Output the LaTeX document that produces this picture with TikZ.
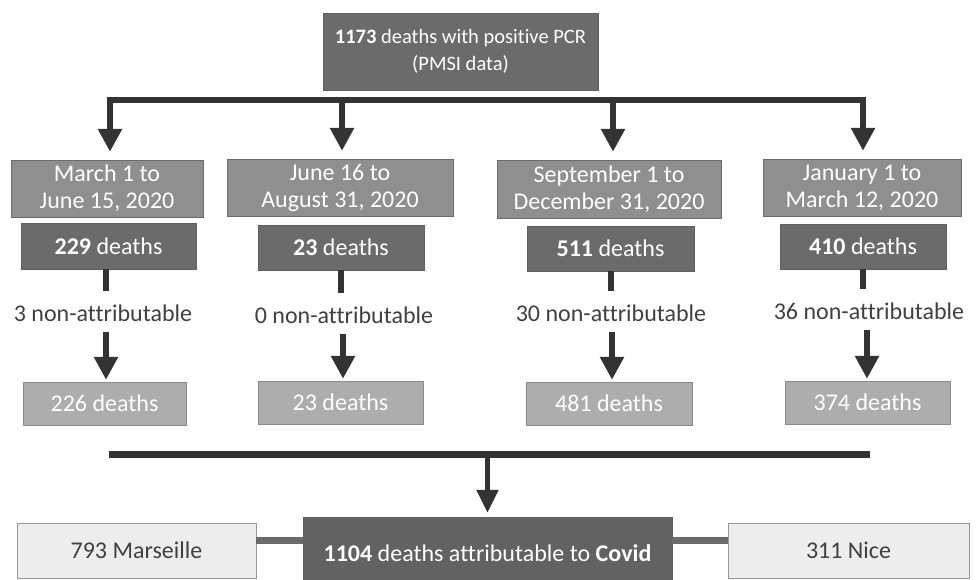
\documentclass[tikz,border=0pt]{standalone}
\usepackage{fontspec}
\setmainfont{Carlito}[Ligatures=NoCommon]
\usepackage{tikz}
\usetikzlibrary{arrows.meta}

\definecolor{boxdark}{HTML}{6B6B6B}
\definecolor{boxmid}{HTML}{8F8F8F}
\definecolor{boxlight}{HTML}{ADADAD}
\definecolor{boxpale}{HTML}{EDEDED}
\definecolor{linedark}{HTML}{333333}
\definecolor{textdark}{HTML}{404040}

\begin{document}
\begin{tikzpicture}[x=1pt,y=-1pt,
		font=\fontsize{24}{27}\selectfont,
		darkbox/.style={rectangle,fill=boxdark,draw=boxdark!90!black,text=white,inner sep=0pt,align=center},
		datebox/.style={rectangle,fill=boxmid,draw=boxdark,text=white,inner sep=0pt,align=center,minimum height=57pt},
		resbox/.style={rectangle,fill=boxlight,draw=boxdark!80,text=white,inner sep=0pt,minimum height=43pt},
		sidebox/.style={rectangle,fill=boxpale,draw=boxdark!70,text=textdark,inner sep=0pt,minimum height=55pt},
		bigarrow/.style={draw=linedark,line width=6pt,-{Triangle[width=23pt,length=23pt]}}]
	\useasboundingbox (0,0) rectangle (979,580);

	% source
	\node[darkbox,minimum width=275pt,minimum height=77pt,font=\fontsize{20.5}{27}\selectfont] (PCR) at (460.5,51.5)
		{\textbf{1173} deaths with positive PCR\\(PMSI data)};

	% periods
	\begin{scope}[every node/.style={datebox}]
		\node[minimum width=192pt] (D1) at (107,188.5) {March 1 to\\June 15, 2020};
		\node[minimum width=226pt] (D2) at (340,187.5) {June 16 to\\August 31, 2020};
		\node[minimum width=224pt,minimum height=58pt] (D3) at (609,189) {September 1 to\\December 31, 2020};
		\node[minimum width=198pt] (D4) at (862,187.5) {January 1 to\\March 12, 2020};
	\end{scope}

	\begin{scope}[every node/.style={darkbox,minimum height=45pt}]
		\node[minimum width=175pt,minimum height=46pt] (K1) at (108.5,246) {\textbf{229} deaths};
		\node[minimum width=166pt] (K2) at (341,247.5) {\textbf{23} deaths};
		\node[minimum width=167pt] (K3) at (610.5,248.5) {\textbf{511} deaths};
		\node[minimum width=166pt] (K4) at (863,246.5) {\textbf{410} deaths};
	\end{scope}

	\begin{scope}[every node/.style={text=textdark,inner sep=2pt}]
		\node (N1) at (103,313) {3 non-attributable};
		\node (N2) at (344,315) {0 non-attributable};
		\node (N3) at (611,313) {30 non-attributable};
		\node (N4) at (869,311) {36 non-attributable};
	\end{scope}

	\begin{scope}[every node/.style={resbox}]
		\node[minimum width=163pt] (R1) at (104.5,403.5) {226 deaths};
		\node[minimum width=165pt] (R2) at (340.5,402.5) {23 deaths};
		\node[minimum width=166pt] (R3) at (609,403.5) {481 deaths};
		\node[minimum width=165pt] (R4) at (867.5,402.5) {374 deaths};
	\end{scope}

	% total and cities
	\node[darkbox,fill=boxdark!92!black,minimum width=369pt,minimum height=72pt] (COV) at (487.5,553)
		{\textbf{1104} deaths attributable to \textbf{Covid}};
	\node[sidebox,minimum width=239pt] (MRS) at (136.5,550.5) {793 Marseille};
	\node[sidebox,minimum width=241pt] (NCE) at (848.5,550.5) {311 Nice};

	% branch bars
	\coordinate (B1) at (110,100);
	\coordinate (B4) at (863,100);
	\coordinate (J1) at (109,454);
	\coordinate (J2) at (870,454);

	\draw[linedark,line width=6pt,line cap=rect] (B1) -- (B4);
	\draw[linedark,line width=7pt] (J1) -- (J2);

	\begin{scope}[every path/.style={bigarrow,shorten >=8pt}]
		\path (B1) -- (B1 |- D1.north);
		\path (B1 -| D2.north) ++(2,0) -- (D2.north -| 342,0);
		\path (B1 -| D3.north) ++(4,0) -- (D3.north -| 613,0);
		\path (B4) -- (B4 |- D4.north);
	\end{scope}

	\begin{scope}[every path/.style={draw=linedark,line width=6pt,shorten >=11pt}]
		\path (K1.south -| N1.north) ++(3,0) -- (N1.north -| 106,0);
		\path (K2.south) -- (K2.south |- N2.north);
		\path (K3.south) -- (K3.south |- N3.north);
		\path (K4.south) -- (K4.south |- N4.north);
	\end{scope}

	\begin{scope}[every path/.style={bigarrow,shorten <=8pt,shorten >=2pt}]
		\path (N1.south -| 106,0) -- (R1.north -| 106,0);
		\path (N2.south -| 343,0) -- (R2.north -| 343,0);
		\path (N3.south -| 612,0) -- (R3.north -| 612,0);
		\path (N4.south -| 867,0) -- (R4.north -| 867,0);
	\end{scope}

	\draw[draw=linedark,line width=5pt,-{Triangle[width=21pt,length=23pt]},shorten >=4pt] (J1 -| COV.north) -- (COV.north);

	\draw[boxdark,line width=7pt] ([yshift=10pt]MRS.east) -- ([yshift=10pt]MRS.east -| COV.west);
	\draw[boxdark,line width=7pt] ([yshift=10pt]NCE.west) -- ([yshift=10pt]NCE.west -| COV.east);
\end{tikzpicture}
\end{document}
